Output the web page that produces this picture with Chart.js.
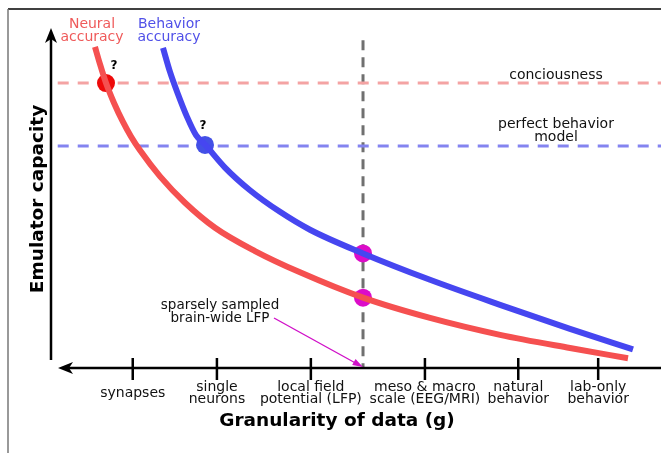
<!DOCTYPE html>
<html>
<head>
<meta charset="utf-8">
<script src="https://cdn.jsdelivr.net/npm/chart.js@4.4.1/dist/chart.umd.min.js"></script>
<style>
  html, body { margin: 0; padding: 0; background: #fff; }
  #wrap { width: 661px; height: 453px; }
</style>
</head>
<body>
<div id="wrap"><canvas id="chart" width="661" height="453"></canvas></div>
<script>
// granularity categories (left = finest) and where their ticks sit on x
const categories = [['synapses'], ['single', 'neurons'], ['local field', 'potential (LFP)'],
  ['meso & macro', 'scale (EEG/MRI)'], ['natural', 'behavior'], ['lab-only', 'behavior']];
const tickPos = [1.34, 2.72, 4.26, 6.13, 7.66, 8.97];

// accuracy curves
const neuralX = [0.721, 0.803, 0.902, 1.033, 1.18, 1.311, 1.459, 1.787, 2.197, 2.689, 3.344, 4.082, 5.115, 6.213, 7.361, 8.508, 9.459];
const neuralY = [9.50, 8.99, 8.43, 7.84, 7.28, 6.85, 6.44, 5.67, 4.89, 4.15, 3.46, 2.83, 2.08, 1.48, 0.98, 0.59, 0.29];
const behavX = [1.836, 1.951, 2.082, 2.23, 2.377, 2.525, 2.852, 3.262, 3.754, 4.246, 5.115, 6.213, 7.361, 8.508, 9.541];
const behavY = [9.47, 8.76, 8.10, 7.43, 6.89, 6.61, 5.93, 5.26, 4.62, 4.09, 3.39, 2.61, 1.87, 1.16, 0.55];

// reference levels
const consciousLevel = 8.43;
const perfectBehaviorLevel = 6.57;
const lfpX = 5.115;

// highlighted points
const questionPts = [{ x: 0.902, y: 8.43 }, { x: 2.525, y: 6.60 }];
const lfpPts = [{ x: 5.115, y: 3.39 }, { x: 5.115, y: 2.08 }];

const toXY = (xs, ys) => xs.map((x, i) => ({ x: x, y: ys[i] }));
const FONT = '"DejaVu Sans", sans-serif';

function arrowHead(ctx, x, y, dir) {
  ctx.beginPath();
  if (dir === 'up') {
    ctx.moveTo(x, y); ctx.lineTo(x - 6, y + 15); ctx.lineTo(x, y + 11); ctx.lineTo(x + 6, y + 15);
  } else {
    ctx.moveTo(x, y); ctx.lineTo(x + 15, y - 6); ctx.lineTo(x + 11, y); ctx.lineTo(x + 15, y + 6);
  }
  ctx.closePath();
  ctx.fill();
}

const decor = {
  id: 'decor',
  beforeDatasetsDraw(chart) {
    const ctx = chart.ctx;
    const xs = chart.scales.x, ys = chart.scales.y;
    ctx.save();
    // frame
    ctx.strokeStyle = '#000'; ctx.lineWidth = 1.5;
    ctx.beginPath(); ctx.moveTo(8, 9); ctx.lineTo(661, 9); ctx.stroke();
    ctx.strokeStyle = '#777';
    ctx.beginPath(); ctx.moveTo(8, 9); ctx.lineTo(8, 453); ctx.stroke();

    // vertical LFP line
    const vx = xs.getPixelForValue(lfpX);
    ctx.strokeStyle = '#707070'; ctx.lineWidth = 3; ctx.setLineDash([10, 7]);
    ctx.beginPath(); ctx.moveTo(vx, ys.getPixelForValue(9.7)); ctx.lineTo(vx, ys.getPixelForValue(0)); ctx.stroke();

    // horizontal levels
    const x0 = xs.getPixelForValue(0.11), x1 = xs.getPixelForValue(10);
    ctx.lineWidth = 3; ctx.setLineDash([11, 9]);
    ctx.strokeStyle = '#f4a3a3';
    let hy = ys.getPixelForValue(consciousLevel);
    ctx.beginPath(); ctx.moveTo(x0, hy); ctx.lineTo(x1, hy); ctx.stroke();
    ctx.strokeStyle = '#8484f0';
    hy = ys.getPixelForValue(perfectBehaviorLevel);
    ctx.beginPath(); ctx.moveTo(x0, hy); ctx.lineTo(x1, hy); ctx.stroke();
    ctx.setLineDash([]);

    // axes
    const ax = xs.getPixelForValue(0), ay = ys.getPixelForValue(0);
    ctx.strokeStyle = '#000'; ctx.fillStyle = '#000'; ctx.lineWidth = 2.5;
    ctx.beginPath(); ctx.moveTo(ax, ay - 8); ctx.lineTo(ax, ys.getPixelForValue(10) + 6); ctx.stroke();
    arrowHead(ctx, ax, ys.getPixelForValue(10) - 2, 'up');
    ctx.beginPath(); ctx.moveTo(ax + 14, ay); ctx.lineTo(661, ay); ctx.stroke();
    arrowHead(ctx, ax + 7, ay, 'left');

    // ticks and labels
    ctx.textAlign = 'center'; ctx.textBaseline = 'middle';
    ctx.font = '14px ' + FONT; ctx.fillStyle = '#111';
    tickPos.forEach((t, i) => {
      const tx = xs.getPixelForValue(t);
      ctx.strokeStyle = '#000'; ctx.lineWidth = 2.5;
      ctx.beginPath(); ctx.moveTo(tx, ay - 10); ctx.lineTo(tx, ay + 12); ctx.stroke();
      const lines = categories[i];
      if (lines.length === 1) ctx.fillText(lines[0], tx, ay + 25);
      else { ctx.fillText(lines[0], tx, ay + 19); ctx.fillText(lines[1], tx, ay + 31); }
    });

    // axis titles
    ctx.font = 'bold 18.5px ' + FONT; ctx.fillStyle = '#000';
    ctx.fillText('Granularity of data (g)', 337, 421);
    ctx.save();
    ctx.translate(38, 199); ctx.rotate(-Math.PI / 2);
    ctx.fillText('Emulator capacity', 0, 0);
    ctx.restore();

    // curve names
    ctx.font = '14px ' + FONT;
    ctx.fillStyle = '#ef5a5a';
    ctx.fillText('Neural', 92, 24); ctx.fillText('accuracy', 92, 37);
    ctx.fillStyle = '#5050e8';
    ctx.fillText('Behavior', 169, 24); ctx.fillText('accuracy', 169, 37);

    // level labels
    ctx.font = '14px ' + FONT; ctx.fillStyle = '#111';
    ctx.fillText('conciousness', 556, 75);
    ctx.fillText('perfect behavior', 556, 124);
    ctx.fillText('model', 556, 137);

    // annotation + arrow
    ctx.font = '13.5px ' + FONT;
    ctx.fillText('sparsely sampled', 220, 305);
    ctx.fillText('brain-wide LFP', 220, 318);
    ctx.strokeStyle = '#d010c8'; ctx.fillStyle = '#d010c8'; ctx.lineWidth = 1.4;
    const tx = vx, ty = ay - 1;
    ctx.beginPath(); ctx.moveTo(274, 318); ctx.lineTo(tx - 4, ty - 2); ctx.stroke();
    const ang = Math.atan2(ty - 318, tx - 274);
    ctx.beginPath();
    ctx.moveTo(tx, ty);
    ctx.lineTo(tx - 11 * Math.cos(ang - 0.32), ty - 11 * Math.sin(ang - 0.32));
    ctx.lineTo(tx - 11 * Math.cos(ang + 0.32), ty - 11 * Math.sin(ang + 0.32));
    ctx.closePath(); ctx.fill();
    ctx.restore();
  },
  afterDatasetsDraw(chart) {
    const ctx = chart.ctx;
    const xs = chart.scales.x, ys = chart.scales.y;
    const offs = [[8, -17], [-2, -19]];
    ctx.save();
    ctx.font = 'bold 12px ' + FONT; ctx.fillStyle = '#000';
    ctx.textAlign = 'center'; ctx.textBaseline = 'middle';
    questionPts.forEach((p, i) => {
      ctx.fillText('?', xs.getPixelForValue(p.x) + offs[i][0], ys.getPixelForValue(p.y) + offs[i][1]);
    });
    ctx.restore();
  }
};

new Chart(document.getElementById('chart'), {
  type: 'scatter',
  data: {
    datasets: [
      { label: 'Neural accuracy', data: toXY(neuralX, neuralY), showLine: true, borderColor: '#f55050',
        borderWidth: 6, pointRadius: 0, cubicInterpolationMode: 'monotone', borderCapStyle: 'butt' },
      { label: 'Behavior accuracy', data: toXY(behavX, behavY), showLine: true, borderColor: '#4646f0',
        borderWidth: 6, pointRadius: 0, cubicInterpolationMode: 'monotone', borderCapStyle: 'butt' },
      { label: 'open questions', data: questionPts, pointRadius: 9, borderWidth: 0,
        backgroundColor: ['#ee0a0a', '#4350e6'] },
      { label: 'LFP', data: lfpPts, pointRadius: 9, borderWidth: 0, backgroundColor: '#dc0cc8' }
    ]
  },
  options: {
    responsive: false,
    animation: false,
    layout: { autoPadding: false, padding: { left: 51, right: 0, top: 30, bottom: 85 } },
    plugins: { legend: { display: false }, tooltip: { enabled: false } },
    scales: {
      x: { type: 'linear', min: 0, max: 10, display: false },
      y: { type: 'linear', min: 0, max: 10, display: false }
    }
  },
  plugins: [decor]
});
</script>
</body>
</html>
